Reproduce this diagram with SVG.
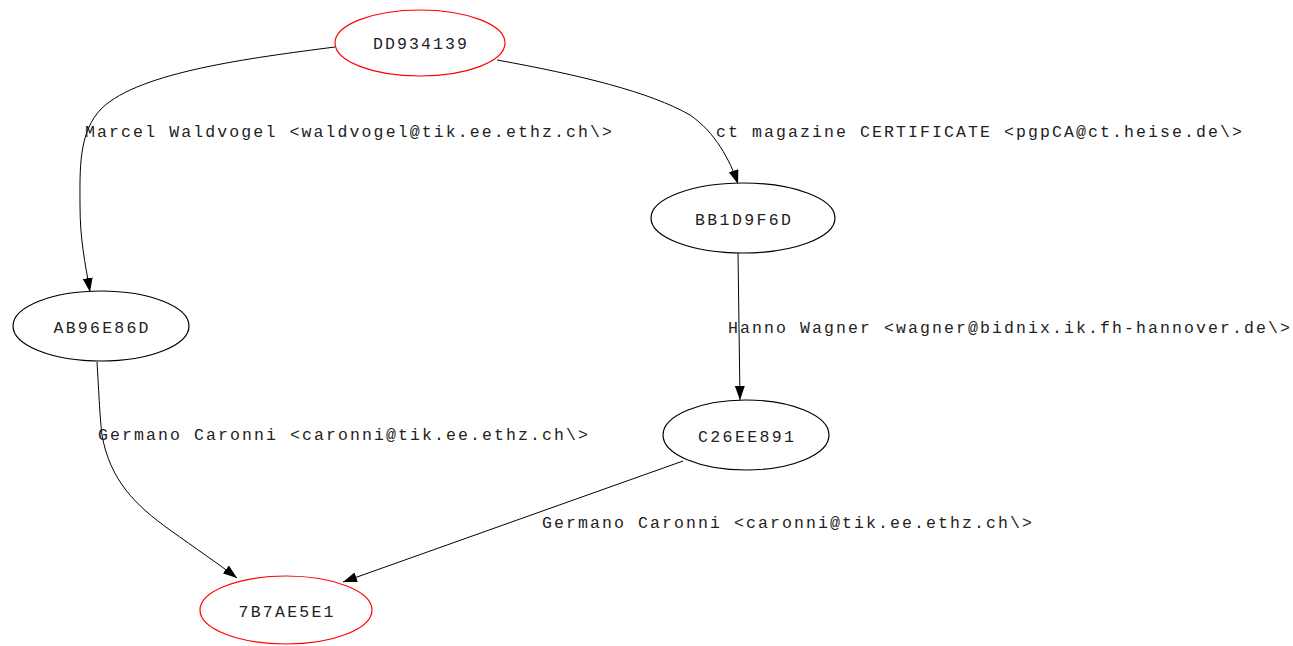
<svg xmlns="http://www.w3.org/2000/svg" width="1293" height="646" viewBox="0 0 1293 646">
<style>
  .n { fill: #ffffff; stroke: #000000; stroke-width: 1.2; }
  .r { fill: #ffffff; stroke: #ff0000; stroke-width: 1.2; }
  .t { font-family: "Liberation Mono", "DejaVu Sans Mono", monospace; font-size: 16.5px; fill: #222222; }
  .e { fill: none; stroke: #000000; stroke-width: 1; }
</style>
<defs>
  <marker id="arrL" viewBox="0 0 14 10" refX="14" refY="5" markerWidth="14" markerHeight="12" markerUnits="userSpaceOnUse" orient="auto">
    <path d="M0,0 L14,5 L0,10 Z" fill="#000000"/>
  </marker>
</defs>
<g id="edges">
  <path class="e" d="M335,47 C250,58 140,72 102,108 C78,132 80,170 80,205 C80,240 85,262 90,292" marker-end="url(#arrL)"/>
  <path class="e" d="M497,60 C580,75 650,92 690,115 C715,132 730,160 738,184" marker-end="url(#arrL)"/>
  <path class="e" d="M738,253 L740,400" marker-end="url(#arrL)"/>
  <path class="e" d="M97,362 C99,395 100,420 102,435 C110,480 135,505 170,530 C195,548 220,565 237,578" marker-end="url(#arrL)"/>
  <path class="e" d="M683,461 L343,582" marker-end="url(#arrL)"/>
  <text class="t" x="85" y="137" textLength="527" lengthAdjust="spacing">Marcel Waldvogel &lt;waldvogel@tik.ee.ethz.ch\&gt;</text>
  <text class="t" x="716" y="137" textLength="526" lengthAdjust="spacing">ct magazine CERTIFICATE &lt;pgpCA@ct.heise.de\&gt;</text>
  <text class="t" x="728" y="333" textLength="562" lengthAdjust="spacing">Hanno Wagner &lt;wagner@bidnix.ik.fh-hannover.de\&gt;</text>
  <text class="t" x="98" y="440" textLength="490" lengthAdjust="spacing">Germano Caronni &lt;caronni@tik.ee.ethz.ch\&gt;</text>
  <text class="t" x="542" y="528" textLength="490" lengthAdjust="spacing">Germano Caronni &lt;caronni@tik.ee.ethz.ch\&gt;</text>
</g>
<g id="DD934139">
  <ellipse class="r" cx="420" cy="43" rx="85" ry="33"/>
  <text class="t" x="420" y="49" text-anchor="middle" textLength="94" lengthAdjust="spacing">DD934139</text>
</g>
<g id="BB1D9F6D">
  <ellipse class="n" cx="743" cy="218" rx="92" ry="35"/>
  <text class="t" x="743" y="225" text-anchor="middle" textLength="96" lengthAdjust="spacing">BB1D9F6D</text>
</g>
<g id="AB96E86D">
  <ellipse class="n" cx="101" cy="326" rx="88" ry="35"/>
  <text class="t" x="101" y="333" text-anchor="middle" textLength="95" lengthAdjust="spacing">AB96E86D</text>
</g>
<g id="C26EE891">
  <ellipse class="n" cx="746" cy="435" rx="83" ry="35"/>
  <text class="t" x="746" y="442" text-anchor="middle" textLength="96" lengthAdjust="spacing">C26EE891</text>
</g>
<g id="7B7AE5E1">
  <ellipse class="r" cx="286" cy="610" rx="86" ry="34"/>
  <text class="t" x="286" y="617" text-anchor="middle" textLength="95" lengthAdjust="spacing">7B7AE5E1</text>
</g>
</svg>
